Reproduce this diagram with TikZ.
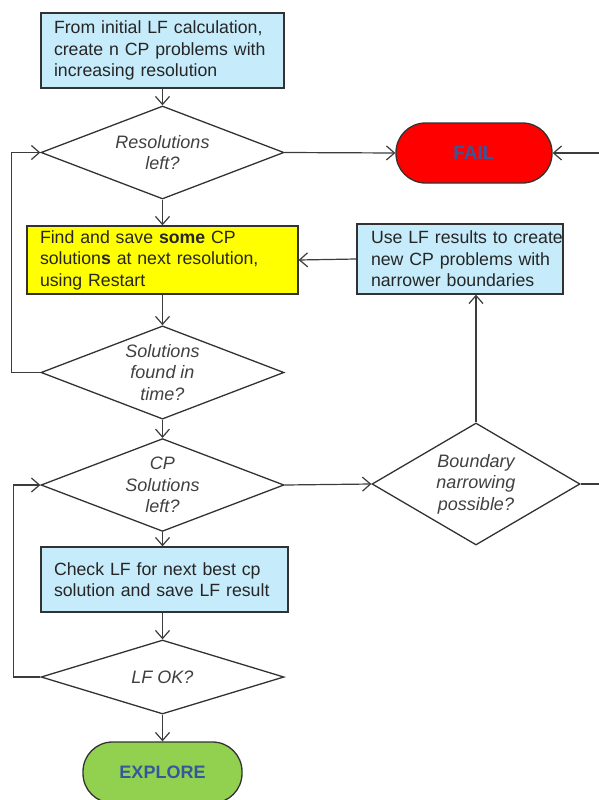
\documentclass[tikz,border=0pt]{standalone}
\usepackage{fontspec}
\setmainfont{Liberation Sans}
\usetikzlibrary{shapes.geometric,arrows.meta}
\definecolor{boxblue}{RGB}{198,235,250}
\definecolor{boxyellow}{RGB}{255,255,0}
\definecolor{failred}{RGB}{255,0,0}
\definecolor{exgreen}{RGB}{146,208,80}
\definecolor{edgegray}{RGB}{50,50,50}
\definecolor{linegray}{RGB}{60,60,60}
\definecolor{txtgray}{RGB}{38,38,38}
\definecolor{dtxt}{RGB}{64,64,64}
\definecolor{wafill}{RGB}{52,88,155}
\begin{document}
\begin{tikzpicture}[x=1pt,y=-1pt,
  procbox/.style={draw=edgegray,line width=1.3pt,rectangle,inner xsep=13pt,inner ysep=0pt,
    align=left,text=txtgray,font=\fontsize{17.7}{21.5}\selectfont},
  decision/.style={draw=edgegray,line width=1.3pt,diamond,inner sep=0pt,aspect=2,
    align=center,text=dtxt,font=\fontsize{18}{21.5}\selectfont\itshape},
  terminal/.style={draw=edgegray,line width=1.3pt,rectangle,rounded corners=29.5pt,
    inner sep=0pt,text=wafill,font=\fontsize{19}{22}\selectfont\bfseries},
  conn/.style={draw=linegray,line width=1.2pt,-{Straight Barb[length=8pt,width=14pt,line width=1.2pt]}}]
\useasboundingbox (0,0) rectangle (598,800);

\node[procbox,fill=boxblue,text width=217pt,minimum height=75pt] (b1) at (162.5,50.5)
  {\mbox{From initial LF calculation,}\\\mbox{create n CP problems with}\\\mbox{increasing resolution}};
\node[decision,minimum width=243pt,minimum height=93pt] (d1) at (162.5,152.5) {Resolutions\\left?};
\node[terminal,fill=failred,minimum width=156pt,minimum height=60pt] (fail) at (474,153) {FAIL};
\node[procbox,fill=boxyellow,text width=245pt,minimum height=68pt] (y) at (162.5,260)
  {\mbox{Find and save \textbf{some} CP}\\\mbox{solution\textbf{s} at next resolution,}\\\mbox{using Restart}};
\node[procbox,fill=boxblue,inner xsep=14pt,text width=178pt,minimum height=70pt] (rb) at (460,259)
  {\mbox{Use LF results to create}\\\mbox{new CP problems with}\\\mbox{narrower boundaries}};
\node[decision,minimum width=243pt,minimum height=91pt] (d2) at (162.5,372.5) {Solutions\\found in\\time?};
\node[decision,minimum width=243pt,minimum height=90pt] (d3) at (162.5,485) {CP\\Solutions\\left?};
\node[decision,minimum width=208pt,minimum height=122pt] (bd) at (476,484) {Boundary\\narrowing\\possible?};
\node[procbox,fill=boxblue,text width=221pt,minimum height=65pt] (b4) at (164.5,579.5)
  {\mbox{Check LF for next best cp}\\\mbox{solution and save LF result}};
\node[decision,minimum width=243pt,minimum height=74pt] (d4) at (162.5,677) {LF OK?};
\node[terminal,fill=exgreen,minimum width=159pt,minimum height=61pt,font=\fontsize{18}{22}\selectfont\bfseries] (ex) at (162.5,772.5) {EXPLORE};

\draw[conn] (b1.south -| d1.north) -- (d1.north);
\draw[conn] (d1.east) -- (fail.west);
\draw[conn] (d1.south) -- (d1.south |- y.north);
\draw[conn] (d2.north |- y.south) -- (d2.north);
\draw[conn] (d2.west) -- ++(-29,0) |- (d1.west);
\draw[conn] (d2.south) -- (d3.north);
\draw[conn] (d3.east) -- (bd.west);
\draw[conn] (bd.north) -- (bd.north |- rb.south);
\draw[conn] (rb.west) -- (y.east);
\draw[conn] (bd.east) -- ++(40,0) |- (fail.east);
\draw[conn] (d3.south) -- (d3.south |- b4.north);
\draw[conn] (d4.north |- b4.south) -- (d4.north);
\draw[conn] (d4.west) -- ++(-27,0) |- (d3.west);
\draw[conn] (d4.south) -- (ex.north);
\end{tikzpicture}
\end{document}
